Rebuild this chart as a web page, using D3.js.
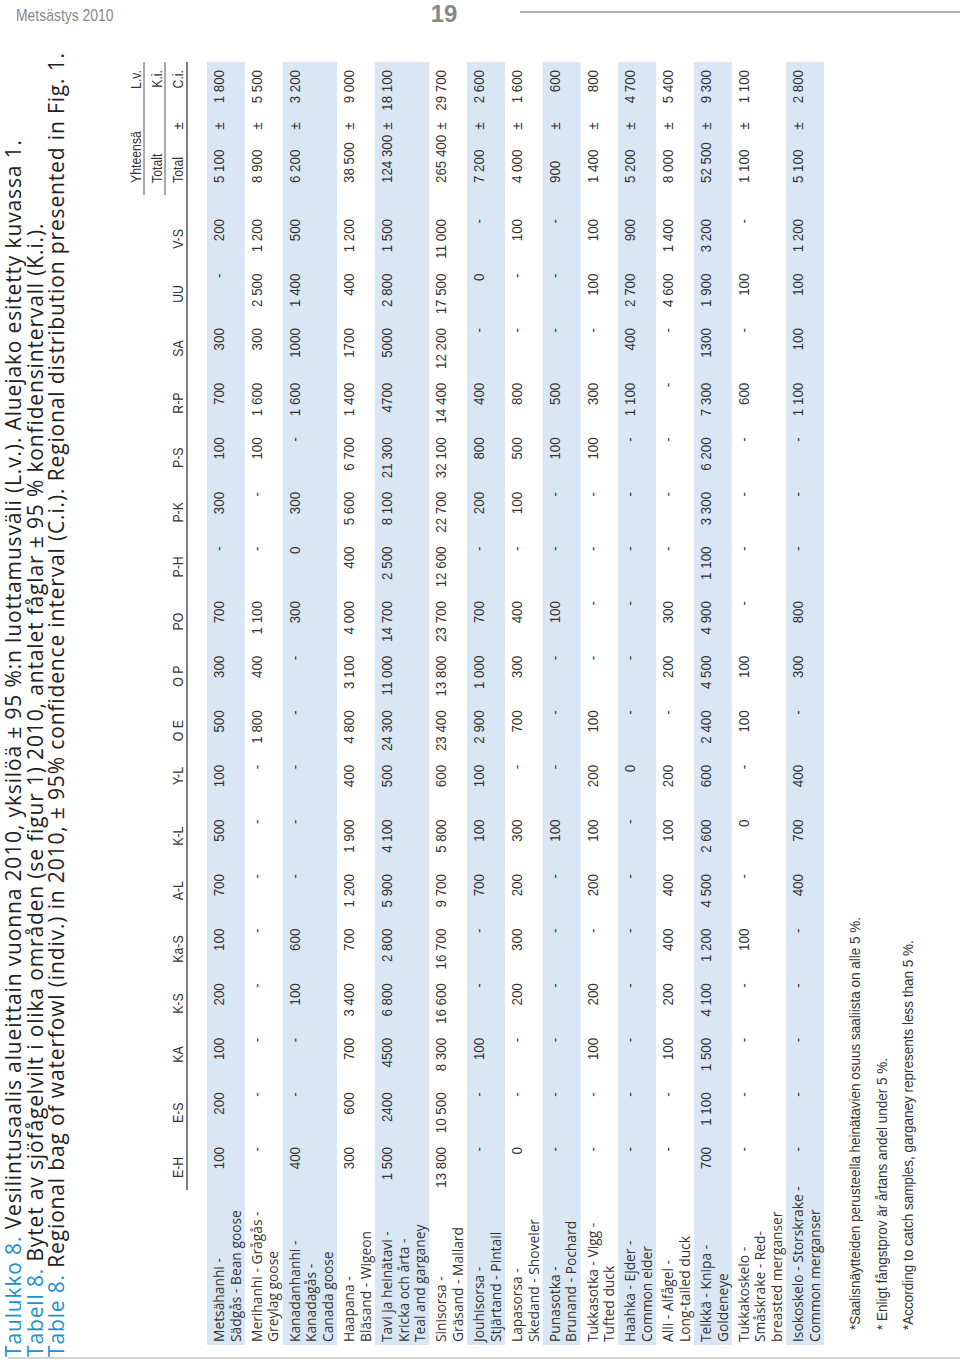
<!DOCTYPE html>
<html>
<head>
<meta charset="utf-8">
<script src="https://cdn.jsdelivr.net/npm/d3@7"></script>
<style>
body { margin: 0; background: #fff; }
svg text { font-family: "Liberation Sans", Arial, sans-serif; }
.lab { font-family: "Open Sans", sans-serif; }
</style>
</head>
<body>
<div id="chart"></div>
<script>
const W = 960, H = 1365;

// region codes (columns)
const regions = ['E-H','E-S','KA','K-S','Ka-S','A-L','K-L','Y-L','O E','O P','PO','P-H','P-K','P-S','R-P','SA','UU','V-S'];

// species (rows), one entry per printed line
const species = [
  ['Metsähanhi -', 'Sädgås - Bean goose'],
  ['Merihanhi - Grågås -', 'Greylag goose'],
  ['Kanadanhanhi -', 'Kanadagås -', 'Canada goose'],
  ['Haapana -', 'Bläsand - Wigeon'],
  ['Tavi ja heinätavi -', 'Kricka och årta -', 'Teal and garganey'],
  ['Sinisorsa -', 'Gräsand - Mallard'],
  ['Jouhisorsa -', 'Stjärtand - Pintail'],
  ['Lapasorsa -', 'Skedand - Shoveler'],
  ['Punasotka -', 'Brunand - Pochard'],
  ['Tukkasotka - Vigg -', 'Tufted duck'],
  ['Haahka - Ejder -', 'Common eider'],
  ['Alli - Alfågel -', 'Long-tailed duck'],
  ['Telkkä - Knipa -', 'Goldeneye'],
  ['Tukkakoskelo -', 'Småskrake - Red-', 'breasted merganser'],
  ['Isokoskelo - Storskrake -', 'Common merganser']
];

// bag by region, same order as regions
const regionBag = [
  ['100','200','100','200','100','700','500','100','500','300','700','-','300','100','700','300','-','200'],
  ['-','-','-','-','-','-','-','-','1 800','400','1 100','-','-','100','1 600','300','2 500','1 200'],
  ['400','-','-','100','600','-','-','-','-','-','300','0','300','-','1 600','1000','1 400','500'],
  ['300','600','700','3 400','700','1 200','1 900','400','4 800','3 100','4 000','400','5 600','6 700','1 400','1700','400','1 200'],
  ['1 500','2400','4500','6 800','2 800','5 900','4 100','500','24 300','11 000','14 700','2 500','8 100','21 300','4700','5000','2 800','1 500'],
  ['13 800','10 500','8 300','16 600','16 700','9 700','5 800','600','23 400','13 800','23 700','12 600','22 700','32 100','14 400','12 200','17 500','11 000'],
  ['-','-','100','-','-','700','100','100','2 900','1 000','700','-','200','800','400','-','0','-'],
  ['0','-','-','200','300','200','300','-','700','300','400','-','100','500','800','-','-','100'],
  ['-','-','-','-','-','-','100','-','-','-','100','-','-','100','500','-','-','-'],
  ['-','-','100','200','-','200','100','200','100','-','-','-','-','100','300','-','100','100'],
  ['-','-','-','-','-','-','-','0','-','-','-','-','-','-','1 100','400','2 700','900'],
  ['-','-','100','200','400','400','100','200','-','200','300','-','-','-','-','-','4 600','1 400'],
  ['700','1 100','1 500','4 100','1 200','4 500','2 600','600','2 400','4 500','4 900','1 100','3 300','6 200','7 300','1300','1 900','3 200'],
  ['-','-','-','-','100','-','0','-','100','100','-','-','-','-','600','-','100','-'],
  ['-','-','-','-','-','400','700','400','-','300','800','-','-','-','1 100','100','100','1 200']
];

const totals  = ['5 100','8 900','6 200','38 500','124 300','265 400','7 200','4 000','900','1 400','5 200','8 000','52 500','1 100','5 100'];
const confInt = ['1 800','5 500','3 200','9 000','18 100','29 700','2 600','1 600','600','800','4 700','5 400','9 300','1 100','2 800'];

const titles = [
  ['Taulukko 8.', ' Vesilintusaalis alueittain vuonna 2010, yksilöä ± 95 %:n luottamusväli (L.v.). Aluejako esitetty kuvassa 1.'],
  ['Tabell 8.', ' Bytet av sjöfågelvilt i olika områden (se figur 1) 2010, antalet fåglar ± 95 % konfidensintervall (K.i.).'],
  ['Table 8.', ' Regional bag of waterfowl (indiv.) in 2010, ± 95% confidence interval (C.i.). Regional distribution presented in Fig. 1.']
];

const notes = [
  '*Saalisnäytteiden perusteella heinätavien osuus saaliista on alle 5 %.',
  '* Enligt fångstprov är  årtans andel under 5 %.',
  '*According to catch samples, garganey represents less than 5 %.'
];

const blue = '#1b93d1', band = '#d9e6f3', ink = '#333';
// squeeze factors imitating the condensed face of the print
const sqDigits = 0.92, sqLetters = 0.82, sqNotes = 0.9;

const svg = d3.select('#chart').append('svg')
  .attr('width', W)
  .attr('height', H);

// place a text at (x,y), squeezed along its own reading direction
function put(sel, px, py, k) {
  return sel.attr('transform', `translate(${px},${py}) scale(${k},1)`);
}

// running page header
put(svg.append('text'), 16, 21, sqLetters).attr('font-size', 17).attr('fill', '#888').text('Metsästys 2010');
svg.append('text').attr('x', 444).attr('y', 22).attr('text-anchor', 'middle')
  .attr('font-size', 24).attr('font-weight', 'bold').attr('fill', '#888').text('19');
svg.append('line').attr('x1', 520).attr('x2', W).attr('y1', 12).attr('y2', 12)
  .attr('stroke', '#999').attr('stroke-width', 1.5);
svg.append('line').attr('x1', 8).attr('x2', W).attr('y1', 1358).attr('y2', 1358)
  .attr('stroke', '#aaa').attr('stroke-width', 1);

// the table is set sideways: local x runs up the page, local y runs right
const g = svg.append('g').attr('transform', `translate(0,${H}) rotate(-90)`);

const tableLeft = 20, tableRight = H - 62;

// rows: height in line units
const rowUnits = species.map(s => s.length + 0.28);
const rowStart = [0].concat(Array.from(d3.cumsum(rowUnits)));
const y = d3.scaleLinear().domain([0, d3.sum(rowUnits)]).range([207, 824]);

const x = d3.scalePoint().domain(regions).range([H - 1147, H - 219]);
const xTotal = tableRight - 121, xPm = tableRight - 64, xCi = tableRight - 8;

// titles
titles.forEach((t, i) => {
  const tx = g.append('text').attr('class', 'lab')
    .attr('x', 8).attr('y', 21 + i * 21.5)
    .attr('font-size', 21).attr('letter-spacing', 0.85);
  tx.append('tspan').attr('fill', blue).text(t[0]);
  tx.append('tspan').attr('fill', '#222').text(t[1]);
});

// row bands
g.selectAll('rect.band')
  .data(species.map((s, i) => i).filter(i => i % 2 === 0))
  .enter().append('rect')
  .attr('class', 'band')
  .attr('x', tableLeft)
  .attr('width', tableRight - tableLeft)
  .attr('y', i => y(rowStart[i]))
  .attr('height', i => y(rowStart[i + 1]) - y(rowStart[i]))
  .attr('fill', band);

// species labels
species.forEach((lines, i) => {
  lines.forEach((ln, k) => {
    g.append('text').attr('class', 'lab')
      .attr('x', tableLeft + 3)
      .attr('y', y(rowStart[i] + k + 1.03))
      .attr('font-size', 13.8).attr('fill', ink)
      .text(ln);
  });
});

// region values
const cells = [];
regionBag.forEach((row, i) => row.forEach((v, j) => cells.push({ i, col: regions[j], v })));
const valNodes = g.selectAll('text.val')
  .data(cells)
  .enter().append('text')
  .attr('class', 'val')
  .attr('transform', d => `translate(${x(d.col)},${y(rowStart[d.i] + 1.03)}) scale(${sqDigits},1)`)
  .attr('text-anchor', 'end')
  .attr('font-size', 14.5).attr('fill', ink)
  .text(d => d.v);

// totals ± ci
totals.forEach((t, i) => {
  const by = y(rowStart[i] + 1.03);
  put(g.append('text'), xTotal, by, sqDigits).attr('font-size', 14.5).attr('fill', ink).text(t);
  put(g.append('text'), xPm, by, sqDigits).attr('text-anchor', 'middle').attr('font-size', 14.5).attr('fill', ink).text('±');
  put(g.append('text'), xCi, by, sqDigits).attr('text-anchor', 'end').attr('font-size', 14.5).attr('fill', ink).text(confInt[i]);
});

// column headers centred over the widest entry
const widest = {};
valNodes.each(function (d) {
  widest[d.col] = Math.max(widest[d.col] || 0, this.getComputedTextLength() * sqDigits);
});
g.selectAll('text.head')
  .data(regions)
  .enter().append('text')
  .attr('class', 'head')
  .attr('transform', d => `translate(${x(d) - widest[d] / 2},183) scale(${sqLetters},1)`)
  .attr('text-anchor', 'middle')
  .attr('font-size', 15).attr('fill', ink)
  .text(d => d);

const sumHead = [
  ['Yhteensä', 'L.v.', 141],
  ['Totalt', 'K.i.', 162],
  ['Total', 'C.i.', 183]
];
sumHead.forEach(h => {
  put(g.append('text'), xTotal, h[2], sqLetters).attr('font-size', 15).attr('fill', ink).text(h[0]);
  put(g.append('text'), xCi, h[2], sqLetters).attr('text-anchor', 'end').attr('font-size', 15).attr('fill', ink).text(h[1]);
});
put(g.append('text'), xPm, 183, sqDigits).attr('text-anchor', 'middle').attr('font-size', 14.5).attr('fill', ink).text('±');

// rules
g.append('line').attr('x1', xTotal - 12).attr('x2', tableRight).attr('y1', 144).attr('y2', 144)
  .attr('stroke', '#555').attr('stroke-width', 1);
g.append('line').attr('x1', xTotal - 12).attr('x2', tableRight).attr('y1', 165).attr('y2', 165)
  .attr('stroke', '#555').attr('stroke-width', 1);
g.append('line').attr('x1', H - 1190).attr('x2', tableRight).attr('y1', 187).attr('y2', 187)
  .attr('stroke', '#555').attr('stroke-width', 1.5);

// footnotes
notes.forEach((n, i) => {
  put(g.append('text'), 35, 860 + i * 26.5, sqNotes)
    .attr('font-size', 15).attr('fill', ink).text(n);
});
</script>
</body>
</html>
